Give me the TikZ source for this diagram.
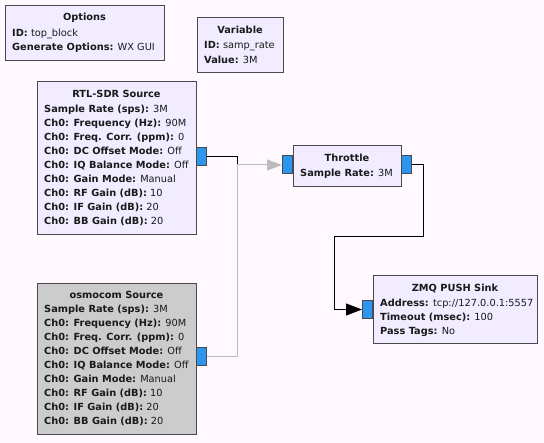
\documentclass[tikz,border=0pt]{standalone}
\usepackage{fontspec}
\setmainfont{DejaVu Sans}
\usetikzlibrary{arrows.meta}
\definecolor{bgcol}{HTML}{FFF9FF}
\definecolor{blockfill}{HTML}{F1ECFF}
\definecolor{offfill}{HTML}{CCCCCC}
\definecolor{bordercol}{HTML}{4A4A4A}
\definecolor{portfill}{HTML}{2A96F0}
\definecolor{offwire}{HTML}{BBBBBB}
\definecolor{txtcol}{HTML}{1A1A1A}
\tikzset{
  blk/.style={draw=bordercol, fill=blockfill, line width=1pt, inner sep=0pt, anchor=north west},
  offblk/.style={blk, fill=offfill},
  port/.style={draw=bordercol, fill=portfill, line width=1pt, inner sep=0pt, minimum width=10pt, minimum height=18pt},
  txt/.style={font=\fontsize{9.8}{12}\selectfont, text=txtcol, inner sep=0pt, text height=7.2pt, text depth=0pt},
  row/.style={txt, anchor=west},
  ttl/.style={txt, anchor=center, font=\fontsize{9.8}{12}\selectfont\bfseries},
  wire/.style={line width=1pt, draw=black},
  offw/.style={line width=1pt, draw=offwire},
}
\newcommand\kv[2]{\textbf{#1:} #2}
\begin{document}
\begin{tikzpicture}[x=1pt,y=-1pt]
\fill[bgcol] (0,0) rectangle (544,443);
\useasboundingbox (0,0) rectangle (544,443);

% Options
\node[blk, minimum width=159pt, minimum height=55pt] (opt) at (5,5) {};
\node[ttl] (opt-t) at (84.5,17) {Options};
\node[row] (opt-1) at (12,33) {\kv{ID}{top\_block}};
\node[row] (opt-2) at (12,47) {\kv{Generate Options}{WX GUI}};

% Variable
\node[blk, minimum width=86pt, minimum height=55pt] (var) at (197,17) {};
\node[ttl] (var-t) at (240,30) {Variable};
\node[row] (var-1) at (204,45) {\kv{ID}{samp\_rate}};
\node[row] (var-2) at (204,59.5) {\kv{Value}{3M}};

% RTL-SDR Source
\node[blk, minimum width=159pt, minimum height=153pt] (rtl) at (37,81) {};
\node[ttl] (rtl-t) at (116.5,94) {RTL-SDR Source};
\foreach [count=\i from 0] \k/\v in {Sample Rate (sps)/3M, Ch0: Frequency (Hz)/90M, Ch0: Freq. Corr. (ppm)/0, Ch0: DC Offset Mode/Off, Ch0: IQ Balance Mode/Off, Ch0: Gain Mode/Manual, Ch0: RF Gain (dB)/10, Ch0: IF Gain (dB)/20, Ch0: BB Gain (dB)/20}
  \node[row] (rtl-\i) at (44,109+14*\i) {\kv{\k}{\v}};
\node[port, anchor=west] (rtlout) at (196,157) {};

% osmocom Source (disabled)
\node[offblk, minimum width=159pt, minimum height=151pt] (osm) at (37,283) {};
\node[ttl] (osm-t) at (116.5,294.5) {osmocom Source};
\foreach [count=\i from 0] \k/\v in {Sample Rate (sps)/3M, Ch0: Frequency (Hz)/90M, Ch0: Freq. Corr. (ppm)/0, Ch0: DC Offset Mode/Off, Ch0: IQ Balance Mode/Off, Ch0: Gain Mode/Manual, Ch0: RF Gain (dB)/10, Ch0: IF Gain (dB)/20, Ch0: BB Gain (dB)/20}
  \node[row] (osm-\i) at (44,309+14*\i) {\kv{\k}{\v}};
\node[port, anchor=west] (osmout) at (196,357) {};

% Throttle
\node[blk, minimum width=108pt, minimum height=41pt] (thr) at (293,145) {};
\node[ttl] (thr-t) at (347,158) {Throttle};
\node[row] (thr-1) at (300,173) {\kv{Sample Rate}{3M}};
\node[port, anchor=east] (thrin) at (293,165) {};
\node[port, anchor=west] (throut) at (401,165) {};

% ZMQ PUSH Sink
\node[blk, minimum width=164pt, minimum height=68pt] (zmq) at (373,275) {};
\node[ttl] (zmq-t) at (455,288) {ZMQ PUSH Sink};
\node[row] (zmq-1) at (380,303) {\kv{Address}{tcp://127.0.0.1:5557}};
\node[row] (zmq-2) at (380,317) {\kv{Timeout (msec)}{100}};
\node[row] (zmq-3) at (380,331) {\kv{Pass Tags}{No}};
\node[port, anchor=east] (zmqin) at (373,309.5) {};

% connections
\coordinate (j) at (237,165);
\draw[wire] (rtlout.east) -- (237,157) -- (j);
\draw[offw, -{Triangle[length=15pt,width=11pt]}] (osmout.east) -- (237,357) -- (j) -- (thrin.west);
\draw[wire, -{Triangle[length=16pt,width=12pt]}] (throut.east) -- (423,165) -- (423,237) -- (334,237) -- (334,309.5) -- (zmqin.west);
\end{tikzpicture}
\end{document}
